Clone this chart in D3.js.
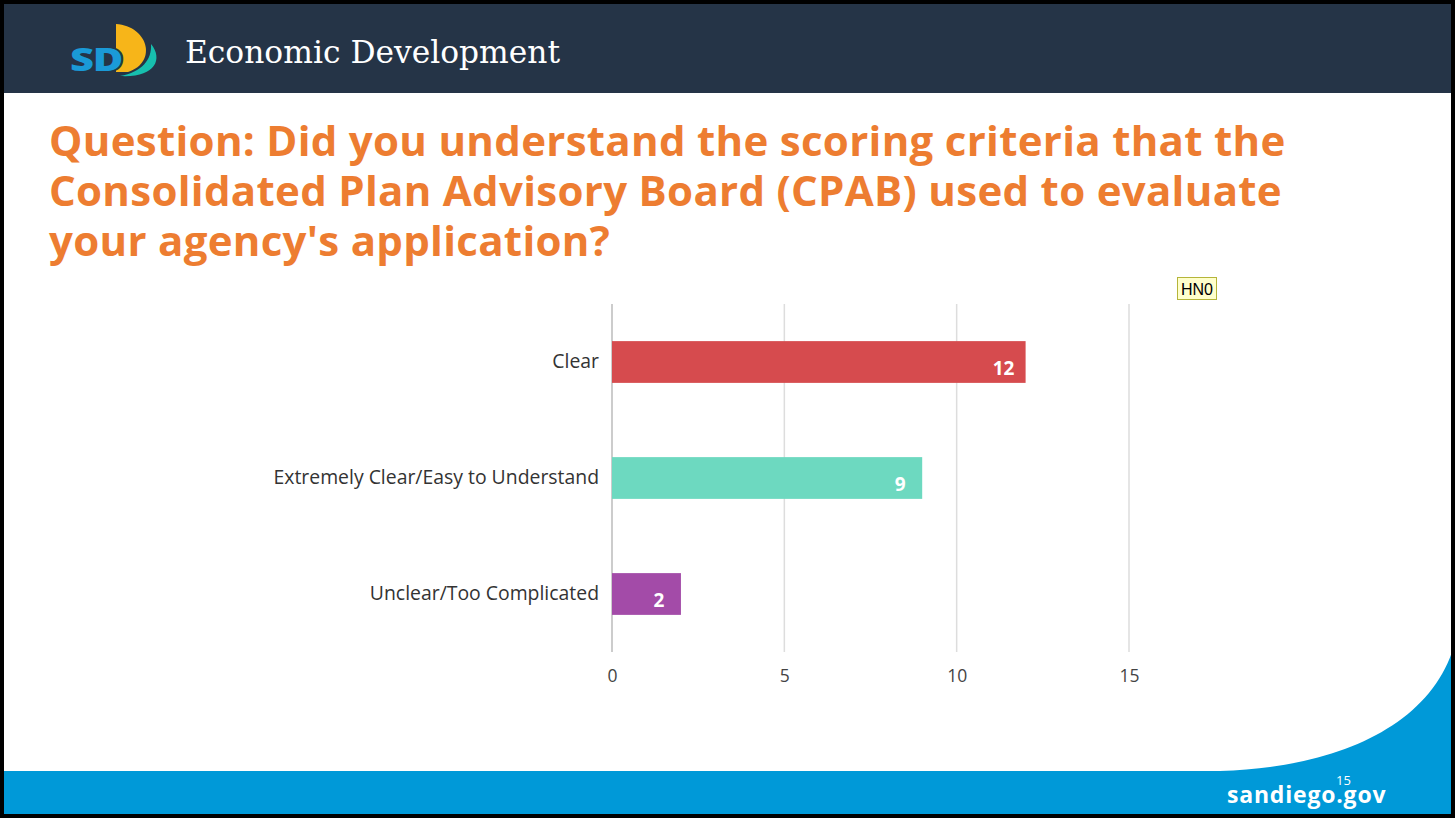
<!DOCTYPE html>
<html>
<head>
<meta charset="utf-8">
<script src="https://cdn.jsdelivr.net/npm/d3@7"></script>
<style>
  body { margin: 0; background: #fff; }
  svg { display: block; }
</style>
</head>
<body>
<div class="chart"></div>
<script>
// chart data
const categories = ["Clear", "Extremely Clear/Easy to Understand", "Unclear/Too Complicated"];
const counts = [12, 9, 2];
const barColors = ["#D64B4E", "#6DD9C0", "#A34BA8"];
const xTicks = [0, 5, 10, 15];

const svgWidth = 1455;
const svgHeight = 818;

const svg = d3.select(".chart")
    .append("svg")
    .attr("width", svgWidth)
    .attr("height", svgHeight);

// slide background
svg.append("rect")
    .attr("x", 0).attr("y", 0)
    .attr("width", svgWidth).attr("height", svgHeight)
    .attr("fill", "#fff");

// header band
svg.append("rect")
    .attr("x", 0).attr("y", 0)
    .attr("width", svgWidth).attr("height", 93)
    .attr("fill", "#253447");

// logo
const logo = svg.append("g");
logo.append("path")
    .attr("d", "M116 24 C148 26 158 62 128 72 L116 72 Z")
    .attr("fill", "#F7B519");
logo.append("path")
    .attr("d", "M151 44 C164 60 154 78 120 76 C142 72 152 60 151 44 Z")
    .attr("fill", "#17BFAE");
logo.append("text")
    .attr("transform", "translate(70, 71) scale(1.3, 1)")
    .attr("font-family", "'Open Sans', sans-serif")
    .attr("font-weight", "800")
    .attr("font-size", "32px")
    .attr("fill", "#1A9AD7")
    .attr("stroke", "#253447")
    .attr("stroke-width", 3)
    .attr("paint-order", "stroke")
    .attr("letter-spacing", "-1")
    .text("SD");

svg.append("text")
    .attr("x", 185).attr("y", 63)
    .attr("font-family", "'DejaVu Serif', 'Liberation Serif', serif")
    .attr("font-size", "31.3px")
    .attr("fill", "#fff")
    .text("Economic Development");

// question title
const titleLines = [
    "Question: Did you understand the scoring criteria that the",
    "Consolidated Plan Advisory Board (CPAB) used to evaluate",
    "your agency's application?"
];
svg.selectAll(".title")
    .data(titleLines)
    .enter()
    .append("text")
    .attr("class", "title")
    .attr("x", 49)
    .attr("y", (d, i) => 156 + i * 50)
    .attr("font-family", "'Open Sans', sans-serif")
    .attr("font-weight", "bold")
    .attr("font-size", "42px")
    .attr("letter-spacing", "0.3")
    .attr("fill", "#ED7D31")
    .text(d => d);

// bottom band with curve
svg.append("path")
    .attr("d", "M0 771 L1220 771 C1330 768 1425 730 1452 652 L1452 818 L0 818 Z")
    .attr("fill", "#0099D8");

svg.append("text")
    .attr("x", 1227).attr("y", 803)
    .attr("font-family", "'Open Sans', sans-serif")
    .attr("font-weight", "bold")
    .attr("font-size", "23px")
    .attr("letter-spacing", "0.8")
    .attr("fill", "#fff")
    .text("sandiego.gov");

svg.append("text")
    .attr("x", 1336).attr("y", 785)
    .attr("font-family", "'Open Sans', sans-serif")
    .attr("font-size", "13px")
    .attr("fill", "#fff")
    .text("15");

// outer border
svg.append("rect")
    .attr("x", 2).attr("y", 2)
    .attr("width", svgWidth - 4).attr("height", svgHeight - 4)
    .attr("fill", "none")
    .attr("stroke", "#000")
    .attr("stroke-width", 4);

// HN0 tag
svg.append("rect")
    .attr("x", 1177.5).attr("y", 277.5)
    .attr("width", 39).attr("height", 22)
    .attr("fill", "#FFFFCC")
    .attr("stroke", "#B5B53A");
svg.append("text")
    .attr("x", 1197).attr("y", 295)
    .attr("text-anchor", "middle")
    .attr("font-family", "'Liberation Sans', Arial, sans-serif")
    .attr("font-size", "16px")
    .attr("fill", "#000")
    .text("HN0");

// bar chart
const chartMargin = { top: 304, left: 612 };
const width = 517;
const height = 348;

const chartGroup = svg.append("g")
    .attr("transform", `translate(${chartMargin.left}, ${chartMargin.top})`);

const xScale = d3.scaleLinear()
    .domain([0, 15])
    .range([0, width]);

const yScale = d3.scaleBand()
    .domain(categories)
    .range([0, height])
    .paddingInner(0.64)
    .paddingOuter(0.32);

// gridlines
chartGroup.selectAll(".grid")
    .data(xTicks)
    .enter()
    .append("line")
    .attr("class", "grid")
    .attr("x1", d => xScale(d))
    .attr("x2", d => xScale(d))
    .attr("y1", 0)
    .attr("y2", height)
    .attr("stroke", d => d === 0 ? "#bbb" : "#ddd")
    .attr("stroke-width", 1.5);

// x tick labels
const xAxis = d3.axisBottom(xScale).tickValues(xTicks).tickSize(0).tickPadding(18);
const xg = chartGroup.append("g")
    .attr("transform", `translate(0, ${height})`)
    .call(xAxis);
xg.select(".domain").remove();
xg.selectAll("text")
    .attr("font-family", "'Open Sans', sans-serif")
    .attr("font-size", "17.5px")
    .attr("fill", "#444");

// category labels
const yAxis = d3.axisLeft(yScale).tickSize(0).tickPadding(13);
const yg = chartGroup.append("g").call(yAxis);
yg.select(".domain").remove();
yg.selectAll("text")
    .attr("font-family", "'Open Sans', sans-serif")
    .attr("font-size", "19.4px")
    .attr("fill", "#333");

// bars
chartGroup.selectAll(".bar")
    .data(counts)
    .enter()
    .append("rect")
    .attr("class", "bar")
    .attr("x", xScale(0))
    .attr("y", (d, i) => yScale(categories[i]))
    .attr("width", d => xScale(d) - xScale(0))
    .attr("height", yScale.bandwidth())
    .attr("fill", (d, i) => barColors[i]);

// value labels
chartGroup.selectAll(".val")
    .data(counts)
    .enter()
    .append("text")
    .attr("class", "val")
    .attr("x", d => xScale(d) - 22)
    .attr("y", (d, i) => yScale(categories[i]) + yScale.bandwidth() / 2 + 13)
    .attr("text-anchor", "middle")
    .attr("font-family", "'Open Sans', sans-serif")
    .attr("font-weight", "bold")
    .attr("font-size", "19px")
    .attr("fill", "#fff")
    .text(d => d);
</script>
</body>
</html>
